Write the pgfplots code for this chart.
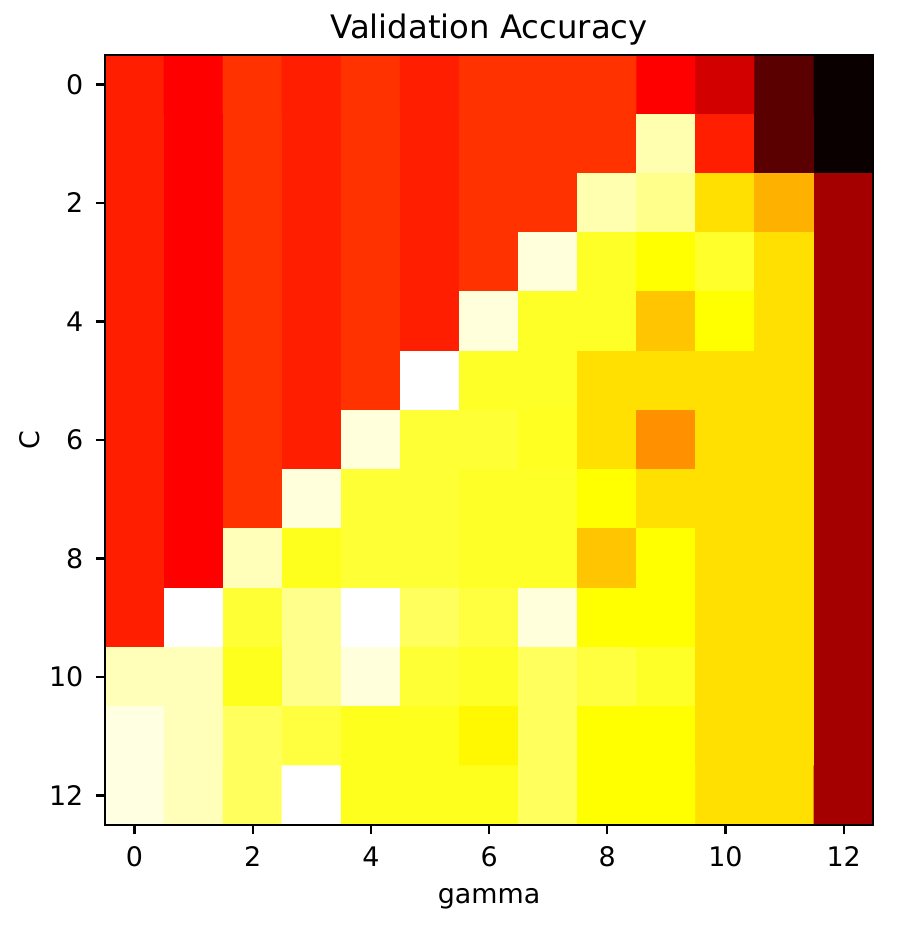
\documentclass[border=0pt]{standalone}
\usepackage{pgfplots}
\pgfplotsset{compat=1.18}
\usepackage{fontspec}
\setmainfont{DejaVu Sans}
\pgfplotstableread{
x y c
0 0 0.41
1 0 0.365
2 0 0.44
3 0 0.41
4 0 0.44
5 0 0.41
6 0 0.44
7 0 0.44
8 0 0.44
9 0 0.365
10 0 0.30
11 0 0.12
12 0 0.0
0 1 0.41
1 1 0.365
2 1 0.44
3 1 0.41
4 1 0.44
5 1 0.41
6 1 0.44
7 1 0.44
8 1 0.44
9 1 0.92
10 1 0.41
11 1 0.12
12 1 0.0
0 2 0.41
1 2 0.365
2 2 0.44
3 2 0.41
4 2 0.44
5 2 0.41
6 2 0.44
7 2 0.44
8 2 0.92
9 2 0.885
10 2 0.70
11 2 0.63
12 2 0.23
0 3 0.41
1 3 0.365
2 3 0.44
3 3 0.41
4 3 0.44
5 3 0.41
6 3 0.44
7 3 0.965
8 3 0.786
9 3 0.746
10 3 0.79
11 3 0.70
12 3 0.23
0 4 0.41
1 4 0.365
2 4 0.44
3 4 0.41
4 4 0.44
5 4 0.41
6 4 0.965
7 4 0.786
8 4 0.786
9 4 0.66
10 4 0.746
11 4 0.70
12 4 0.23
0 5 0.41
1 5 0.365
2 5 0.44
3 5 0.41
4 5 0.44
5 5 1.0
6 5 0.786
7 5 0.786
8 5 0.70
9 5 0.70
10 5 0.70
11 5 0.70
12 5 0.23
0 6 0.41
1 6 0.365
2 6 0.44
3 6 0.41
4 6 0.965
5 6 0.80
6 6 0.80
7 6 0.78
8 6 0.70
9 6 0.58
10 6 0.70
11 6 0.70
12 6 0.23
0 7 0.41
1 7 0.365
2 7 0.44
3 7 0.965
4 7 0.80
5 7 0.80
6 7 0.786
7 7 0.786
8 7 0.746
9 7 0.70
10 7 0.70
11 7 0.70
12 7 0.23
0 8 0.41
1 8 0.365
2 8 0.93
3 8 0.776
4 8 0.80
5 8 0.80
6 8 0.786
7 8 0.786
8 8 0.66
9 8 0.746
10 8 0.70
11 8 0.70
12 8 0.23
0 9 0.41
1 9 1.0
2 9 0.80
3 9 0.885
4 9 1.0
5 9 0.84
6 9 0.81
7 9 0.965
8 9 0.746
9 9 0.746
10 9 0.70
11 9 0.70
12 9 0.23
0 10 0.93
1 10 0.93
2 10 0.776
3 10 0.885
4 10 0.965
5 10 0.80
6 10 0.786
7 10 0.84
8 10 0.81
9 10 0.786
10 10 0.70
11 10 0.70
12 10 0.23
0 11 0.97
1 11 0.93
2 11 0.84
3 11 0.81
4 11 0.776
5 11 0.776
6 11 0.735
7 11 0.84
8 11 0.746
9 11 0.746
10 11 0.70
11 11 0.70
12 11 0.23
0 12 0.97
1 12 0.93
2 12 0.84
3 12 1.0
4 12 0.776
5 12 0.776
6 12 0.776
7 12 0.84
8 12 0.746
9 12 0.746
10 12 0.70
11 12 0.70
12 12 0.23
}\datatable
\begin{document}
\begin{tikzpicture}
\begin{axis}[
  scale only axis,
  width=285.5pt, height=286.2pt,
  xmin=-0.5, xmax=12.5, ymin=-0.5, ymax=12.5,
  enlargelimits=false,
  y dir=reverse,
  axis on top=true,
  colormap={hot}{rgb(0pt)=(0.0416,0,0); rgb(365pt)=(1,0,0); rgb(746pt)=(1,1,0); rgb(1000pt)=(1,1,1)},
  point meta min=0, point meta max=1,
  xtick={0,2,4,6,8,10,12},
  ytick={0,2,4,6,8,10,12},
  tick align=outside,
  tick pos=left,
  major tick length=3.5pt,
  every tick/.style={black, line width=0.8pt},
  axis line style={line width=0.8pt, black},
  /pgf/number format/assume math mode=true,
  ticklabel style={font=\fontsize{10}{12}\selectfont},
  xticklabel style={yshift=-1pt},
  yticklabel style={xshift=-1pt},
  title={Validation Accuracy},
  title style={font=\fontsize{12}{14}\selectfont, at={(0.5,1)}, anchor=base},
  xlabel={gamma},
  ylabel={C},
  label style={font=\fontsize{10}{12}\selectfont},
  xlabel style={at={(axis description cs:0.5,-0.096)}, anchor=center},
  ylabel style={at={(axis description cs:-0.0977,0.5)}, anchor=center},
]
\addplot[matrix plot*, mesh/cols=13, point meta=explicit] table[x=x, y=y, meta=c] {\datatable};
\end{axis}
\pgfresetboundingbox
\path[use as bounding box] (current axis.south west) ++(-39pt,-39pt) rectangle ([shift={(9.3pt,20.4pt)}]current axis.north east);
\end{tikzpicture}
\end{document}
